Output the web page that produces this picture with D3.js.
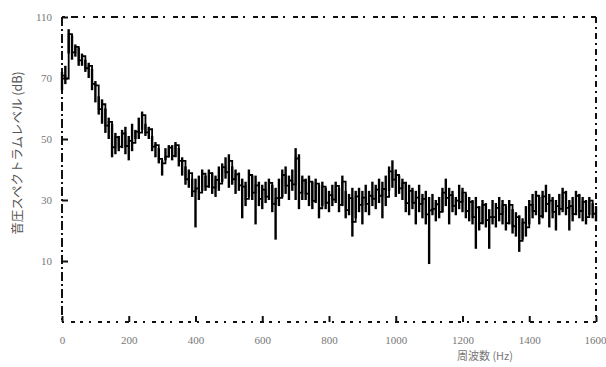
<!DOCTYPE html>
<html>
<head>
<meta charset="utf-8">
<script src="https://cdn.jsdelivr.net/npm/d3@7"></script>
<style>
  body { margin: 0; background: #fff; }
  svg { display: block; }
</style>
</head>
<body>
<div id="chart"></div>
<script>
// spectrum, read every 10 Hz: upper and lower edge of the trace (dB)
const freqs = d3.range(0, 1601, 10);
const hiVals = [
  72, 74, 86, 84, 81, 80, 78, 76, 75, 73,
  69, 64, 63, 60, 57, 55, 52, 51, 53, 54,
  51, 55, 53, 57, 59, 55, 54, 51, 49, 47,
  43, 47, 48, 48, 49, 47, 44, 41, 40, 37,
  37, 38, 40, 38, 40, 39, 38, 41, 42, 44,
  45, 41, 40, 39, 37, 36, 40, 38, 38, 36,
  35, 36, 37, 35, 34, 37, 40, 41, 38, 40,
  47, 45, 38, 37, 38, 36, 37, 35, 36, 34,
  33, 35, 36, 34, 38, 33, 32, 34, 33, 34,
  33, 35, 33, 36, 35, 37, 36, 38, 41, 43,
  40, 38, 37, 36, 35, 34, 33, 35, 32, 33,
  31, 32, 30, 31, 34, 37, 34, 33, 31, 35,
  34, 32, 31, 30, 31, 28, 30, 29, 27, 30,
  29, 31, 30, 28, 30, 27, 26, 25, 24, 28,
  30, 32, 33, 31, 33, 35, 32, 31, 30, 32,
  34, 33, 30, 31, 33, 32, 31, 30, 31, 29,
  28
];
const loVals = [
  66, 68, 78, 76, 77, 74, 74, 72, 70, 66,
  62, 58, 55, 52, 50, 44, 45, 46, 47, 45,
  43, 46, 50, 50, 53, 51, 50, 46, 44, 42,
  38, 43, 44, 43, 44, 41, 38, 35, 34, 31,
  21, 30, 33, 33, 34, 32, 31, 33, 36, 37,
  34, 35, 32, 33, 24, 28, 31, 30, 22, 28,
  27, 29, 30, 26, 17, 28, 31, 32, 30, 33,
  30, 27, 30, 30, 28, 27, 29, 24, 28, 27,
  26, 28, 29, 26, 28, 24, 25, 18, 24, 26,
  22, 26, 25, 28, 27, 29, 24, 28, 33, 34,
  31, 32, 30, 26, 25, 27, 22, 26, 24, 22,
  9, 25, 23, 24, 26, 28, 22, 26, 25, 27,
  26, 24, 23, 22, 14, 20, 22, 21, 14, 22,
  21, 23, 22, 20, 22, 19, 18, 13, 17, 18,
  22, 24, 25, 22, 24, 26, 21, 24, 20, 25,
  26, 25, 20, 23, 25, 24, 23, 22, 25, 24,
  23
];
const xTicks = [0, 200, 400, 600, 800, 1000, 1200, 1400, 1600];
const yTicks = [90, 70, 50, 30, 10];
const yTickLabels = ['110', '70', '50', '30', '10'];
const xTitle = '周波数 (Hz)';
const yTitle = '音圧スペクトラムレベル (dB)';

const W = 606, H = 367;
const margin = { top: 17, right: 10, bottom: 45, left: 62 };
const width = W - margin.left - margin.right;
const height = H - margin.top - margin.bottom;

const svg = d3.select('#chart').append('svg')
    .attr('width', W)
    .attr('height', H);

const chart = svg.append('g')
    .attr('transform', `translate(${margin.left}, ${margin.top})`);

const xScale = d3.scaleLinear().domain([0, 1600]).range([0, width]);
const yScale = d3.scaleLinear().domain([-10, 90]).range([height, 0]);

// frame, broken like the scanned original
const frame = chart.append('g')
    .attr('fill', 'none')
    .attr('stroke', '#111')
    .attr('stroke-width', 2);
frame.append('line').attr('x1', 0).attr('y1', 0).attr('x2', width).attr('y2', 0)
    .attr('stroke-dasharray', '3,6,7,5,2,8,5,4');
frame.append('line').attr('x1', 0).attr('y1', height).attr('x2', width).attr('y2', height)
    .attr('stroke-dasharray', '2,7,4,5,3,6');
frame.append('line').attr('x1', 0).attr('y1', 0).attr('x2', 0).attr('y2', height)
    .attr('stroke-dasharray', '9,3,2,3');
frame.append('line').attr('x1', width).attr('y1', 0).attr('x2', width).attr('y2', height)
    .attr('stroke-dasharray', '6,4,2,4');

const xAxis = chart.append('g')
    .attr('transform', `translate(0, ${height})`)
    .call(d3.axisBottom(xScale).tickValues(xTicks).tickSize(-6).tickPadding(14)
        .tickFormat(d3.format('d')));
const yAxis = chart.append('g')
    .call(d3.axisLeft(yScale).tickValues(yTicks).tickSize(-6).tickPadding(10)
        .tickFormat((d, i) => yTickLabels[i]));

[xAxis, yAxis].forEach(ax => {
    ax.select('.domain').remove();
    ax.selectAll('.tick line').attr('stroke', '#111').attr('stroke-width', 2);
    ax.selectAll('.tick text')
        .attr('fill', '#777')
        .style('font-family', '"Liberation Serif", "DejaVu Serif", serif')
        .style('font-size', '11px');
});
// last x label sits against the right edge, as in the scan
xAxis.selectAll('.tick text').filter(d => d === 1600).attr('text-anchor', 'end').attr('dx', '10');

// spectrum trace: a vertical stroke per bin from its low to its high value
const bins = freqs.map((f, i) => ({ f: f, hi: hiVals[i], lo: loVals[i] }));

chart.append('g')
    .selectAll('line')
    .data(bins)
    .join('line')
    .attr('x1', d => xScale(d.f))
    .attr('x2', d => xScale(d.f))
    .attr('y1', d => yScale(d.hi))
    .attr('y2', d => yScale(d.lo))
    .attr('stroke', '#000')
    .attr('stroke-width', 2.4);

const lineGenerator = d3.line()
    .x(d => xScale(d.f))
    .y((d, i) => yScale(i % 2 ? d.lo + (d.hi - d.lo) * 0.3 : d.hi - (d.hi - d.lo) * 0.2))
    .curve(d3.curveStepAfter);

chart.append('path')
    .datum(bins)
    .attr('fill', 'none')
    .attr('stroke', '#000')
    .attr('stroke-width', 1.8)
    .attr('d', lineGenerator);

svg.append('text')
    .attr('x', 485)
    .attr('y', 360)
    .attr('text-anchor', 'middle')
    .attr('fill', '#777')
    .style('font-family', '"Noto Sans CJK JP", sans-serif')
    .style('font-size', '11px')
    .text(xTitle);

svg.append('text')
    .attr('transform', 'translate(22, 153) rotate(-90)')
    .attr('text-anchor', 'middle')
    .attr('fill', '#555')
    .style('font-family', '"Noto Sans CJK JP", sans-serif')
    .style('font-size', '12.5px')
    .text(yTitle);
</script>
</body>
</html>
